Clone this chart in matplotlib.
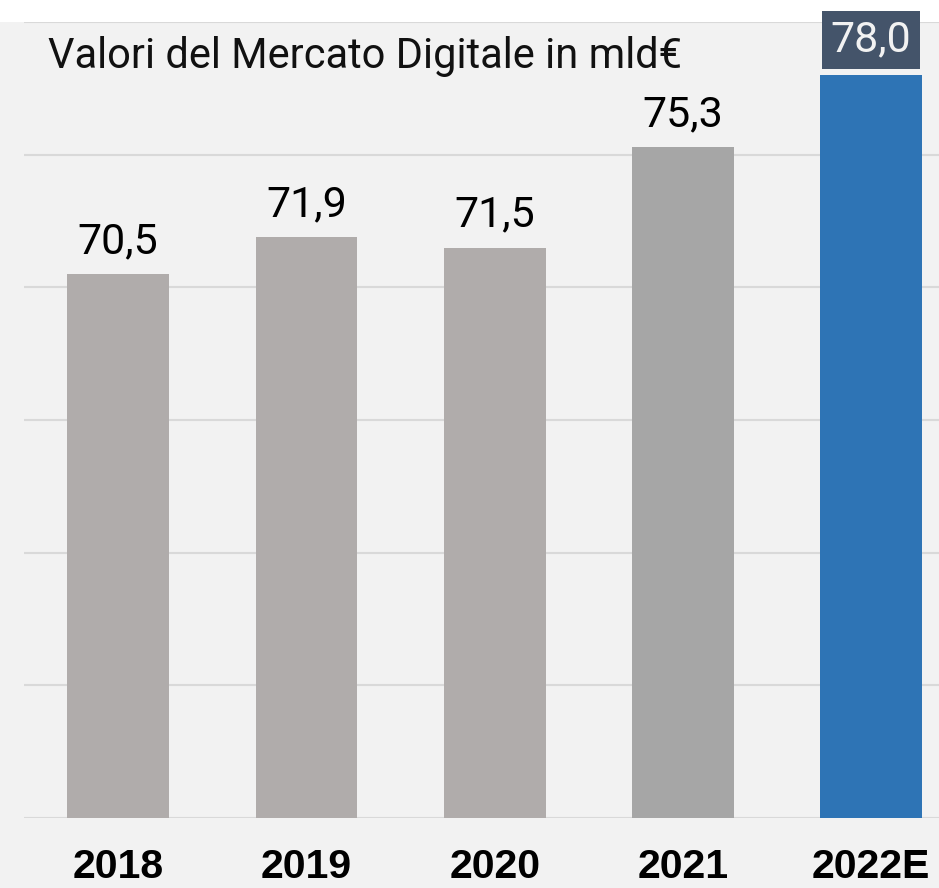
import matplotlib
matplotlib.use("Agg")
import matplotlib.pyplot as plt
from matplotlib.patches import Rectangle

categories = ["2018", "2019", "2020", "2021", "2022E"]
values = [70.5, 71.9, 71.5, 75.3, 78.0]
labels = ["70,5", "71,9", "71,5", "75,3", "78,0"]
colors = ["#b0acab", "#b0acab", "#b0acab", "#a6a6a6", "#2e74b5"]
title = "Valori del Mercato Digitale in mld€"

W, H = 939, 888
fig = plt.figure(figsize=(W / 100, H / 100), dpi=100, facecolor="white")
fig.patches.append(Rectangle((0, 0), 1, (H - 22) / H, transform=fig.transFigure,
                             facecolor="#f2f2f2", edgecolor="none", zorder=-10))

ax = fig.add_axes([24 / W, (H - 818) / H, (W - 24) / W, (818 - 22) / H])
ax.set_zorder(1)
ax.set_facecolor("#f2f2f2")
ax.set_ylim(50, 80)
ax.set_xlim(-0.5, 4.36)
ax.set_yticks([50, 55, 60, 65, 70, 75, 80])
ax.yaxis.grid(True, color="#d9d9d9", linewidth=1.5)
ax.set_axisbelow(True)
for s in ax.spines.values():
    s.set_visible(False)
ax.tick_params(axis="y", left=False, labelleft=False)
ax.tick_params(axis="x", bottom=False, pad=18)

x = list(range(len(categories)))
ax.bar(x, [v - 50 for v in values], bottom=50, width=0.54, color=colors, zorder=2)
ax.set_xticks(x)
ax.set_xticklabels(categories, fontsize=29.5, fontweight="bold", family="Liberation Sans")

lfont = dict(family="Roboto", fontweight="normal")
for i, (v, lab) in enumerate(zip(values, labels)):
    if i == len(values) - 1:
        ax.annotate(lab, (i, v), xytext=(0, 17), textcoords="offset points",
                    ha="center", va="baseline", fontsize=31, color="#f2f2f2",
                    annotation_clip=False, zorder=5,
                    bbox=dict(boxstyle="square,pad=0.2", facecolor="#44546a", edgecolor="none"),
                    **lfont)
    else:
        ax.annotate(lab, (i, v), xytext=(0, 15), textcoords="offset points",
                    ha="center", va="baseline", fontsize=31, color="black",
                    zorder=5, **lfont)

fig.text(48 / W, 1 - 68 / H, title, fontsize=30, color="#111111",
         ha="left", va="baseline", zorder=5, **lfont)

fig.savefig("out.png", dpi=100, facecolor="white")
